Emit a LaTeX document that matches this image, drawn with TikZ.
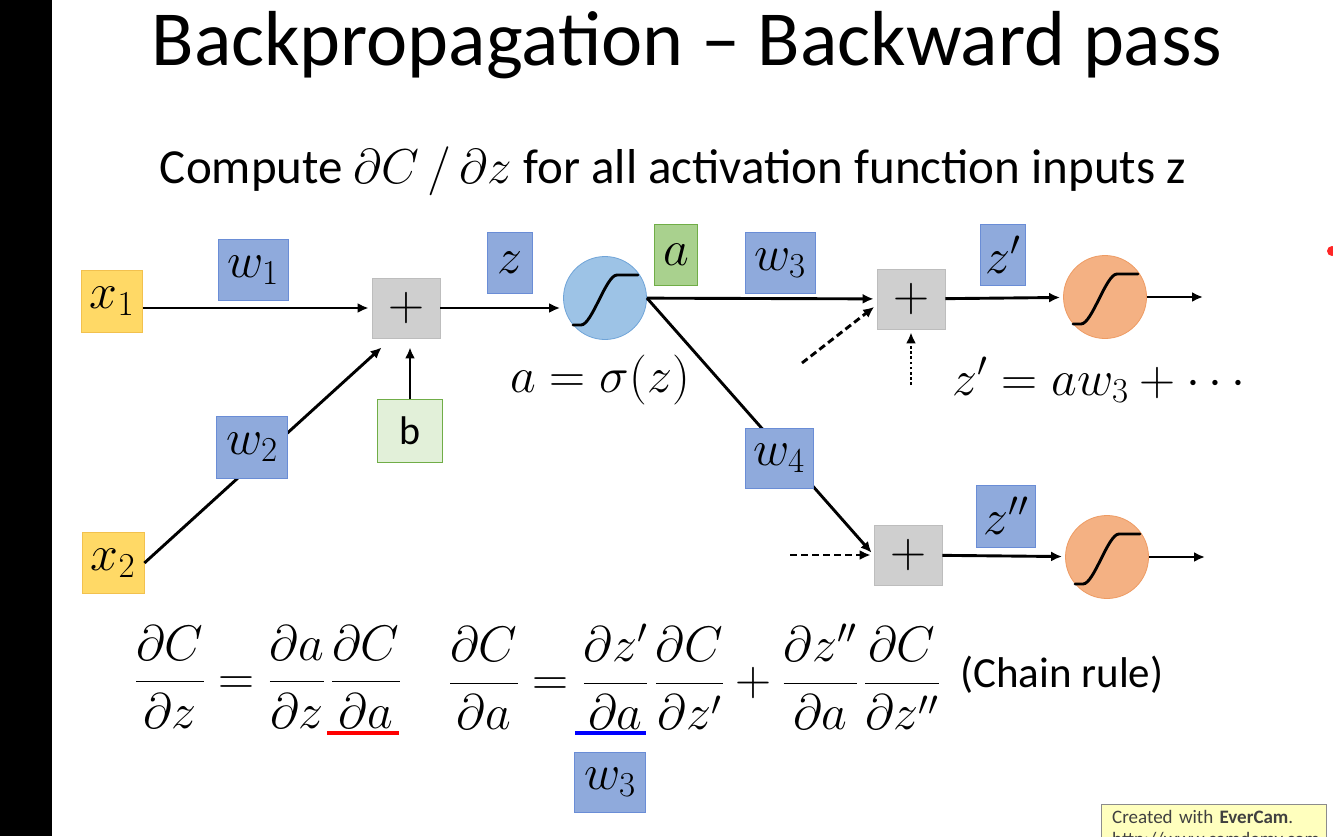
\documentclass[tikz,border=0pt]{standalone}
\usepackage{fix-cm}
\usepackage{amsmath}
\usepackage[no-math]{fontspec}
\newfontfamily\calibri{Carlito}
\usetikzlibrary{arrows.meta}
\definecolor{xfill}{HTML}{FFD966}
\definecolor{xline}{HTML}{F2C14E}
\definecolor{wfill}{HTML}{8FAADC}
\definecolor{wline}{HTML}{6A8DD6}
\definecolor{sfill}{HTML}{CFCFCF}
\definecolor{sline}{HTML}{BDBDBD}
\definecolor{bfill}{HTML}{E2F0D9}
\definecolor{bline}{HTML}{70AD47}
\definecolor{afill}{HTML}{A9D18E}
\definecolor{bluefill}{HTML}{9DC3E6}
\definecolor{blueline}{HTML}{6FA4D8}
\definecolor{orfill}{HTML}{F4B183}
\definecolor{orline}{HTML}{EE9B63}
\definecolor{notefill}{HTML}{FFFFBE}
\newcommand\mth{\fontsize{50}{60}\selectfont}
\newcommand\fg{\kern6pt}

\begin{document}
\begin{tikzpicture}[x=1pt,y=-1pt,>={Latex[length=11pt,width=10pt]}]
  \tikzset{
    box/.style={draw,line width=0.8pt,inner sep=0pt,font=\mth},
    xin/.style={box,fill=xfill,draw=xline,minimum width=61pt,minimum height=62pt},
    wt/.style={box,fill=wfill,draw=wline,minimum width=70pt,minimum height=61pt},
    zv/.style={wt,minimum width=45pt},
    sumb/.style={box,fill=sfill,draw=sline,minimum width=68pt,minimum height=60pt},
    sig/.style={circle,draw,line width=0.8pt,minimum size=83pt,inner sep=0pt},
    ar/.style={->,line width=2.9pt,shorten >=3pt},
    dsh/.style={dash pattern=on 7pt off 4pt},
    dts/.style={dash pattern=on 2.6pt off 2.6pt},
    sgm/.style={line width=2.9pt,line cap=round},
    lbl/.style={font=\mth,inner sep=0pt},
    txt/.style={inner sep=0pt,anchor=base}}
  \useasboundingbox (0,0) rectangle (1333,836);
  \clip (0,0) rectangle (1333,836);
  \fill[white] (0,0) rectangle (1333,836);
  \fill[black] (0,0) rectangle (52,836);
  % titles
  \node[txt,font=\calibri\fontsize{78}{90}\selectfont] (title) at (687,65) {Backpropagation – Backward pass};
  \node[txt,font=\calibri\fontsize{49}{58}\selectfont] (sub) at (673,183) {Compute $\partial C\,/\,\partial z$ for all activation function inputs z};
  % network
  \node[xin] (x1) at (112,301) {$x_1$};
  \node[xin,minimum width=62pt,minimum height=61pt] (x2) at (113,563) {$x_2$};
  \node[sumb] (p1) at (406,308) {$+$};
  \node[box,fill=bfill,draw=bline,minimum width=65pt,minimum height=63pt,font=\calibri\fontsize{40}{44}\selectfont] (b) at (410,431) {b};
  \node[sig,fill=bluefill,draw=blueline] (s1) at (605,298) {};
  \node[sumb] (p2) at (911,299) {$+$};
  \node[sig,fill=orfill,draw=orline] (s2) at (1105,297) {};
  \node[sumb] (p3) at (908,555) {$+$};
  \node[sig,fill=orfill,draw=orline] (s3) at (1107,557) {};
  \coordinate (o2) at (1206,297);
  \coordinate (o3) at (1208,557);
  \coordinate (d2) at (802,363);
  \coordinate (v2) at (911,385);
  \coordinate (d3) at (790,555);
  \foreach \s in {s1,s2,s3}
    \draw[sgm] (\s.center) ++(-32,27) -- ++(8,0) .. controls +(11,0) and +(-11,0) .. ++(36,-50) -- ++(21,0);
  \draw[ar] (x1.east |- p1.west) -- (p1.west);
  \draw[ar,shorten >=0pt] (x2.east) -- ([xshift=10pt,yshift=-9pt]p1.south west);
  \draw[ar,shorten >=9pt] (b) -- (b |- p1.south);
  \draw[ar] (p1.east) -- (p1.east -| s1.west);
  \draw[ar] (s1) -- (p2);
  \draw[ar] (s1.east) -- (p3.west);
  \draw[ar,dsh] (d2) -- ([yshift=-6pt]p2.west);
  \draw[ar,dts] (v2) -- (p2.south);
  \draw[ar] (p2) -- (s2);
  \draw[ar] (s2) -- (o2);
  \draw[ar,dsh] (d3) -- (p3);
  \draw[ar] (p3) -- (s3);
  \draw[ar] (s3) -- (o3);
  \node[wt] (w1) at (253,270) {$w_1$};
  \node[wt,minimum width=71pt,minimum height=62pt] (w2) at (252,447) {$w_2$};
  \node[zv] (z) at (510,263) {$z$};
  \node[box,fill=afill,draw=bline,minimum width=43pt,minimum height=61pt] (a) at (676,255) {$a$};
  \node[wt] (w3) at (780,263) {$w_3$};
  \node[zv] (zp) at (1003,255) {$z'$};
  \node[wt,minimum width=68pt,minimum height=60pt] (w4) at (779,458) {$w_4$};
  \node[zv,minimum width=59pt,minimum height=62pt] (zpp) at (1006,516) {$z''$};
  \node[lbl] (act) at (600,380) {$a=\sigma(z)$};
  \node[lbl] (zpe) at (1103,380) {$z'=aw_3+\cdots$};
  % chain rule
  \node[lbl,anchor=west] (eq1) at (135,677) {$\displaystyle\frac{\partial C}{\partial z}=\frac{\partial a}{\partial z}\fg\frac{\partial C}{\partial a}$};
  \node[lbl,anchor=west] (eq2) at (449,677) {$\displaystyle\frac{\partial C}{\partial a}=\frac{\partial z'}{\partial a}\fg\frac{\partial C}{\partial z'}+\frac{\partial z''}{\partial a}\fg\frac{\partial C}{\partial z''}$};
  \node[txt,anchor=base west,font=\calibri\fontsize{43}{52}\selectfont] (chain) at (960,687) {(Chain rule)};
  \draw[red,line width=4pt] (327,733) -- (399,733);
  \draw[blue,line width=4pt] (575,733) -- (646,733);
  \node[wt,minimum width=71pt,minimum height=60pt] (w3b) at (610,782) {$w_3$};
  % overlay
  \node[draw=black!45,fill=notefill,anchor=north west,inner xsep=11pt,inner ysep=6pt,text width=203pt,align=left,text=black!75,font=\calibri\fontsize{19}{22}\selectfont] (note) at (1101,804) {Created with \textbf{EverCam}.\\http://www.camdemy.com};
  \fill[red!85] (1332,251) circle (5);
\end{tikzpicture}
\end{document}
